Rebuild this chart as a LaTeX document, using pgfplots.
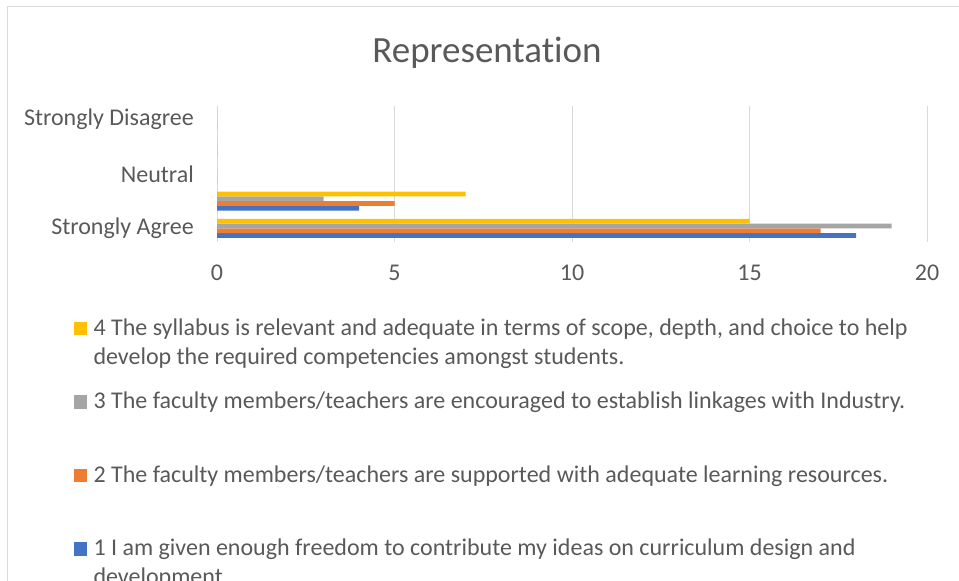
\documentclass[border=0pt]{standalone}
\usepackage{fontspec}
\setmainfont{Carlito}[Ligatures=NoCommon]
\usepackage{pgfplots}
\pgfplotsset{compat=1.18}
\definecolor{cblue}{HTML}{4472C4}
\definecolor{corange}{HTML}{ED7D31}
\definecolor{cgray}{HTML}{A5A5A5}
\definecolor{cyellow}{HTML}{FFC000}
\definecolor{ctext}{HTML}{595959}
\definecolor{cgrid}{HTML}{D9D9D9}
\begin{document}
\begin{tikzpicture}[x=1pt,y=1pt]
\path[use as bounding box] (0,0) rectangle (959,581);
\draw[cgrid, line width=1pt] (7,-60) -- (7,574) -- (1020,574);
\node[anchor=base, text=ctext, font=\fontsize{37}{44}\selectfont, inner sep=0pt] at (487,518) {Representation};
\begin{axis}[
  at={(217pt,339pt)}, anchor=south west, scale only axis,
  width=710pt, height=136pt,
  xbar, bar width=4.75pt,
  xmin=0, xmax=20, ymin=-0.5, ymax=4.5,
  xtick={0,5,10,15,20},
  ytick={0,2,4},
  yticklabels={Strongly Agree,Neutral,Strongly Disagree},
  axis line style={draw=none},
  major tick length=0pt,
  xmajorgrids, grid style={cgrid, line width=1pt},
  ticklabel style={text=ctext, font=\fontsize{24}{29}\selectfont, inner sep=0pt},
  /pgf/number format/assume math mode=true,
  xticklabel style={anchor=north, yshift=-23pt},
  yticklabel style={anchor=east, xshift=-23pt},
  legend image code/.code={\fill[#1] (0pt,0pt) rectangle (13.4pt,13.4pt);},
  reverse legend,
  legend style={draw=none, fill=none, inner sep=0pt, at={(-0.2024,-0.5368)}, anchor=north west,
    row sep=0pt, column sep=6.6pt, font=\fontsize{24}{29}\selectfont, text=ctext,
    cells={anchor=base west}, nodes={inner sep=0pt, text height=20pt, text depth=53.5pt}},
]
\addplot[fill=cblue, draw=none, bar shift=-7.125pt] coordinates {(18,0) (4,1) (0,2) (0,3) (0,4)};
\addlegendentry{\parbox[t]{900pt}{1 I am given enough freedom to contribute my ideas on curriculum design and\\development.}}
\addplot[fill=corange, draw=none, bar shift=-2.375pt] coordinates {(17,0) (5,1) (0,2) (0,3) (0,4)};
\addlegendentry{\parbox[t]{900pt}{2 The faculty members/teachers are supported with adequate learning resources.}}
\addplot[fill=cgray, draw=none, bar shift=2.375pt] coordinates {(19,0) (3,1) (0,2) (0,3) (0,4)};
\addlegendentry{\parbox[t]{900pt}{3 The faculty members/teachers are encouraged to establish linkages with Industry.}}
\addplot[fill=cyellow, draw=none, bar shift=7.125pt] coordinates {(15,0) (7,1) (0,2) (0,3) (0,4)};
\addlegendentry{\parbox[t]{900pt}{4 The syllabus is relevant and adequate in terms of scope, depth, and choice to help\\develop the required competencies amongst students.}}
\end{axis}
\end{tikzpicture}
\end{document}
